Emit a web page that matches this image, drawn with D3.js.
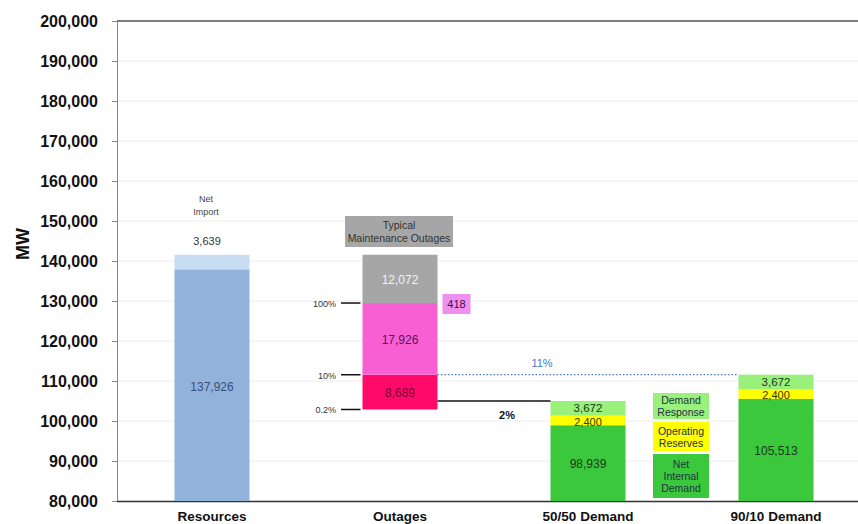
<!DOCTYPE html>
<html>
<head>
<meta charset="utf-8">
<script src="https://cdn.jsdelivr.net/npm/d3@7"></script>
<style>
  html, body { margin: 0; padding: 0; background: #fff; }
  svg { display: block; font-family: "Liberation Sans", Arial, sans-serif; }
</style>
</head>
<body>
<svg id="chart" width="858" height="524"></svg>
<script>
// Capacity vs. demand (MW)
const categories = ["Resources", "Outages", "50/50 Demand", "90/10 Demand"];
const resources = [137926, 3639];            // installed resources, net import
const outages = [8689, 17926, 12072];         // bottom-up: 0.2%-10%, 10%-100%, typical maintenance
const outageExtra = 418;
const demand5050 = [98939, 2400, 3672];       // net internal demand, operating reserves, demand response
const demand9010 = [105513, 2400, 3672];
const yTicks = d3.range(80000, 200001, 10000);
const pctLabels = ["100%", "10%", "0.2%"];
const marginLabels = ["11%", "2%"];
const legendItems = [
  ["Demand", "Response"],
  ["Operating", "Reserves"],
  ["Net", "Internal", "Demand"]
];

const demandColors = ["#3cc83c", "#ffff00", "#99f07a"];
const outageColors = ["#ff0a6a", "#f85fd3", "#a6a6a6"];

const svg = d3.select("#chart");
const plotLeft = 117, plotRight = 900, plotTop = 21, plotBottom = 501;
const y = d3.scaleLinear().domain([80000, 200000]).range([plotBottom, plotTop]);
const x = d3.scalePoint().domain(categories).range([212, 776]);
const bw = 75;

// gridlines
svg.append("g").selectAll("line").data(yTicks.filter(v => v > 80000 && v < 200000))
  .join("line")
  .attr("x1", plotLeft).attr("x2", plotRight)
  .attr("y1", d => y(d)).attr("y2", d => y(d))
  .attr("stroke", "#ececec").attr("stroke-width", 1);

// top border
svg.append("line").attr("x1", plotLeft).attr("x2", plotRight)
  .attr("y1", y(200000)).attr("y2", y(200000))
  .attr("stroke", "#555").attr("stroke-width", 1.5);

// y axis
const yAxis = d3.axisLeft(y).tickValues(yTicks).tickSize(5).tickPadding(14)
  .tickFormat(d3.format(","));
const ga = svg.append("g").attr("transform", `translate(${plotLeft},0)`).call(yAxis);
ga.select(".domain").attr("stroke", "#888");
ga.selectAll(".tick line").attr("stroke", "#888");
ga.selectAll(".tick text").attr("font-size", 16).attr("font-weight", "bold")
  .attr("fill", "#111").attr("font-family", "'Liberation Sans', Arial, sans-serif");

svg.append("text").attr("transform", `translate(29,244) rotate(-90)`)
  .attr("text-anchor", "middle").attr("font-size", 18).attr("font-weight", "bold")
  .attr("fill", "#111").text("MW");

// x axis line
svg.append("line").attr("x1", plotLeft).attr("x2", plotRight)
  .attr("y1", plotBottom + 0.5).attr("y2", plotBottom + 0.5)
  .attr("stroke", "#333").attr("stroke-width", 1.5);

svg.append("g").selectAll("text").data(categories).join("text")
  .attr("x", d => x(d)).attr("y", 521)
  .attr("text-anchor", "middle").attr("font-size", 13.5).attr("font-weight", "bold")
  .attr("fill", "#111").text(d => d);

function stack(values, base) {
  let acc = base;
  return values.map(v => { const s = { y0: acc, y1: acc + v, v }; acc += v; return s; });
}

// Resources: base bar clipped at the axis minimum, net import on top
const resStack = stack(resources, 0);
resStack.forEach(s => { s.y0c = Math.max(s.y0, 80000); });
const resX = x("Resources") - bw / 2;
svg.append("g").selectAll("rect").data(resStack).join("rect")
  .attr("x", resX).attr("width", bw)
  .attr("y", d => y(d.y1)).attr("height", d => y(d.y0c) - y(d.y1))
  .attr("fill", (d, i) => i === 0 ? "#92b2dc" : "#c8dcf2");
svg.append("text").attr("x", x("Resources")).attr("y", (y(80000) + y(resources[0])) / 2 + 6)
  .attr("text-anchor", "middle").attr("font-size", 12).attr("fill", "#3a4f7a")
  .text(d3.format(",")(resources[0]));
const resTop = resources[0] + resources[1];
svg.append("text").attr("text-anchor", "middle").attr("font-size", 9).attr("fill", "#444")
  .selectAll("tspan").data(["Net", "Import"]).join("tspan")
  .attr("x", x("Resources") - 6).attr("y", (d, i) => y(resTop) - 53 + i * 13).text(d => d);
svg.append("text").attr("x", x("Resources") - 5).attr("y", y(resTop) - 10)
  .attr("text-anchor", "middle").attr("font-size", 11).attr("fill", "#333")
  .text(d3.format(",")(resources[1]));

// Outages: hang down from total resources
const outTotal = d3.sum(outages);
const outBase = resTop - outTotal;
const outStack = stack(outages, outBase);
const outX = x("Outages") - bw / 2;
svg.append("g").selectAll("rect").data(outStack).join("rect")
  .attr("x", outX).attr("width", bw)
  .attr("y", d => y(d.y1)).attr("height", d => y(d.y0) - y(d.y1))
  .attr("fill", (d, i) => outageColors[i]);
const outTextColors = ["#7a0030", "#5a1060", "#f2f2f2"];
svg.append("g").selectAll("text").data(outStack).join("text")
  .attr("x", x("Outages")).attr("y", d => (y(d.y0) + y(d.y1)) / 2 + 5)
  .attr("text-anchor", "middle").attr("font-size", 12)
  .attr("fill", (d, i) => outTextColors[i]).text(d => d3.format(",")(d.v));

// percentile markers
const pctVals = [outStack[1].y1, outStack[0].y1, outStack[0].y0];
pctVals.forEach((v, i) => {
  svg.append("line").attr("x1", 341).attr("x2", outX - 2)
    .attr("y1", y(v)).attr("y2", y(v)).attr("stroke", "#111").attr("stroke-width", 1.5);
  svg.append("text").attr("x", 336).attr("y", y(v) + 4).attr("text-anchor", "end")
    .attr("font-size", 9).attr("fill", "#333").text(pctLabels[i]);
});

// 418 box
const boxX = outX + bw + 5;
svg.append("rect").attr("x", boxX).attr("y", y(outStack[1].y1) - 9)
  .attr("width", 28).attr("height", 20).attr("fill", "#ef8ff0");
svg.append("text").attr("x", boxX + 14).attr("y", y(outStack[1].y1) + 5)
  .attr("text-anchor", "middle").attr("font-size", 11).attr("fill", "#3a1040")
  .text(outageExtra);

// maintenance header box
svg.append("rect").attr("x", 345).attr("y", 216).attr("width", 108).attr("height", 31)
  .attr("fill", "#a6a6a6");
svg.append("text").attr("text-anchor", "middle").attr("font-size", 10.5).attr("fill", "#333")
  .selectAll("tspan").data(["Typical", "Maintenance Outages"]).join("tspan")
  .attr("x", 399).attr("y", (d, i) => 229 + i * 12.5).text(d => d);

// demand bars
function demandBar(cat, vals) {
  const st = stack(vals, 0);
  st.forEach(s => { s.y0c = Math.max(s.y0, 80000); });
  const bx = x(cat) - bw / 2;
  svg.append("g").selectAll("rect").data(st).join("rect")
    .attr("x", bx).attr("width", bw)
    .attr("y", d => y(d.y1)).attr("height", d => y(d.y0c) - y(d.y1))
    .attr("fill", (d, i) => demandColors[i]);
  const g = svg.append("g").attr("font-size", 12).attr("text-anchor", "middle").attr("fill", "#1a3a1a");
  g.append("text").attr("x", x(cat)).attr("y", (y(80000) + y(st[0].y1)) / 2 + 5)
    .text(d3.format(",")(vals[0]));
  g.append("text").attr("x", x(cat)).attr("y", y(st[1].y1) + 10)
    .attr("font-size", 11).attr("fill", "#333300").text(d3.format(",")(vals[1]));
  g.append("text").attr("x", x(cat)).attr("y", y(st[2].y1) + 11.5)
    .attr("font-size", 11.5).text(d3.format(",")(vals[2]));
  return st[2].y1;
}
const top5050 = demandBar("50/50 Demand", demand5050);
const top9010 = demandBar("90/10 Demand", demand9010);

// reserve margin lines
svg.append("line").attr("x1", outX + bw).attr("x2", x("90/10 Demand") - bw / 2)
  .attr("y1", y(top9010)).attr("y2", y(top9010))
  .attr("stroke", "#4a78c8").attr("stroke-width", 1.2).attr("stroke-dasharray", "1.5,2");
svg.append("text").attr("x", 542).attr("y", y(top9010) - 8).attr("text-anchor", "middle")
  .attr("font-size", 11).attr("fill", "#4a78c8").text(marginLabels[0]);
svg.append("line").attr("x1", outX + bw).attr("x2", x("50/50 Demand") - bw / 2)
  .attr("y1", y(top5050)).attr("y2", y(top5050))
  .attr("stroke", "#111").attr("stroke-width", 1.5);
svg.append("text").attr("x", 507).attr("y", y(top5050) + 18).attr("text-anchor", "middle")
  .attr("font-size", 11).attr("font-weight", "bold").attr("fill", "#111").text(marginLabels[1]);

// legend
const legendBoxes = [
  { y: 393, h: 26, c: demandColors[2] },
  { y: 422, h: 29, c: demandColors[1] },
  { y: 454, h: 44, c: demandColors[0] }
];
legendBoxes.forEach((b, i) => {
  svg.append("rect").attr("x", 653).attr("y", b.y).attr("width", 56).attr("height", b.h)
    .attr("fill", b.c);
  const lines = legendItems[i];
  const lh = 12;
  const startY = b.y + b.h / 2 - (lines.length - 1) * lh / 2 + 4;
  svg.append("text").attr("text-anchor", "middle").attr("font-size", 10.5).attr("fill", "#234")
    .selectAll("tspan").data(lines).join("tspan")
    .attr("x", 681).attr("y", (d, j) => startY + j * lh).text(d => d);
});
</script>
</body>
</html>
